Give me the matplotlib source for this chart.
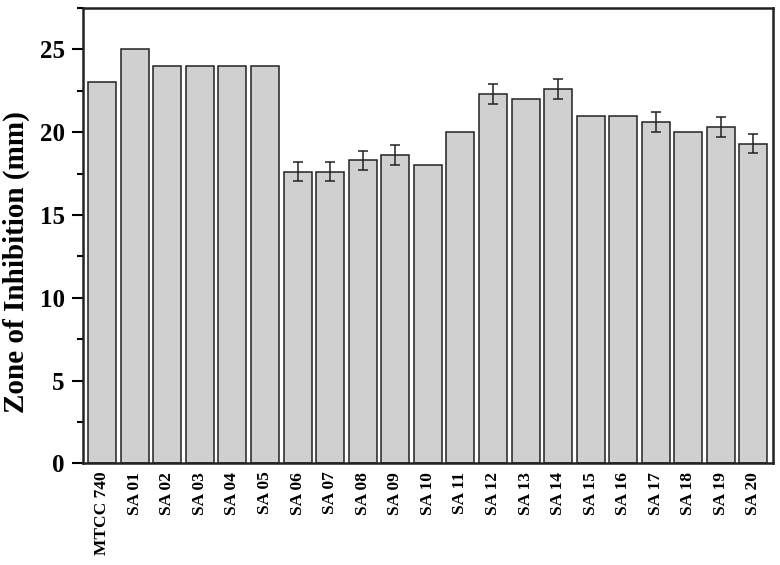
import matplotlib.pyplot as plt
from matplotlib.ticker import MultipleLocator

strains = ["MTCC 740", "SA 01", "SA 02", "SA 03", "SA 04", "SA 05", "SA 06",
           "SA 07", "SA 08", "SA 09", "SA 10", "SA 11", "SA 12", "SA 13",
           "SA 14", "SA 15", "SA 16", "SA 17", "SA 18", "SA 19", "SA 20"]
zone = [23, 25, 24, 24, 24, 24, 17.6, 17.6, 18.3, 18.6, 18.0, 20,
        22.3, 22, 22.6, 21, 21, 20.6, 20, 20.3, 19.3]
err = [0, 0, 0, 0, 0, 0, 0.58, 0.58, 0.58, 0.6, 0, 0,
       0.6, 0, 0.6, 0, 0, 0.6, 0, 0.6, 0.58]

plt.rcParams["font.family"] = ["Liberation Serif", "DejaVu Serif"]
plt.rcParams["font.weight"] = "bold"

fig = plt.figure(figsize=(7.8, 5.65), dpi=100)
ax = fig.add_axes([0.106, 0.18, 0.885, 0.806])

x = list(range(len(strains)))
ax.bar(x, zone, width=0.86, color="#d0d0d0", edgecolor="#222222", linewidth=1.1,
       yerr=[e if e > 0 else float("nan") for e in err],
       error_kw=dict(ecolor="#222222", elinewidth=1.1, capsize=3.5, capthick=1.1))

ax.set_xlim(-0.6, len(strains) - 0.4)
ax.set_ylim(0, 27.5)
ax.yaxis.set_major_locator(MultipleLocator(5))
ax.yaxis.set_minor_locator(MultipleLocator(2.5))
ax.set_xticks(x)
ax.set_xticklabels(strains, rotation=90, fontsize=12.5, fontweight="bold")
ax.tick_params(axis="x", length=0, pad=6)
ax.tick_params(axis="y", which="major", length=8, width=1.5, labelsize=18, pad=5)
ax.tick_params(axis="y", which="minor", length=4.5, width=1.5)
for s in ax.spines.values():
    s.set_linewidth(1.8)
    s.set_color("#222222")

ax.set_ylabel("Zone of Inhibition (mm)", fontsize=21, fontweight="bold")
ax.yaxis.set_label_coords(-0.077, 0.442)

fig.savefig("out.png", dpi=100)
